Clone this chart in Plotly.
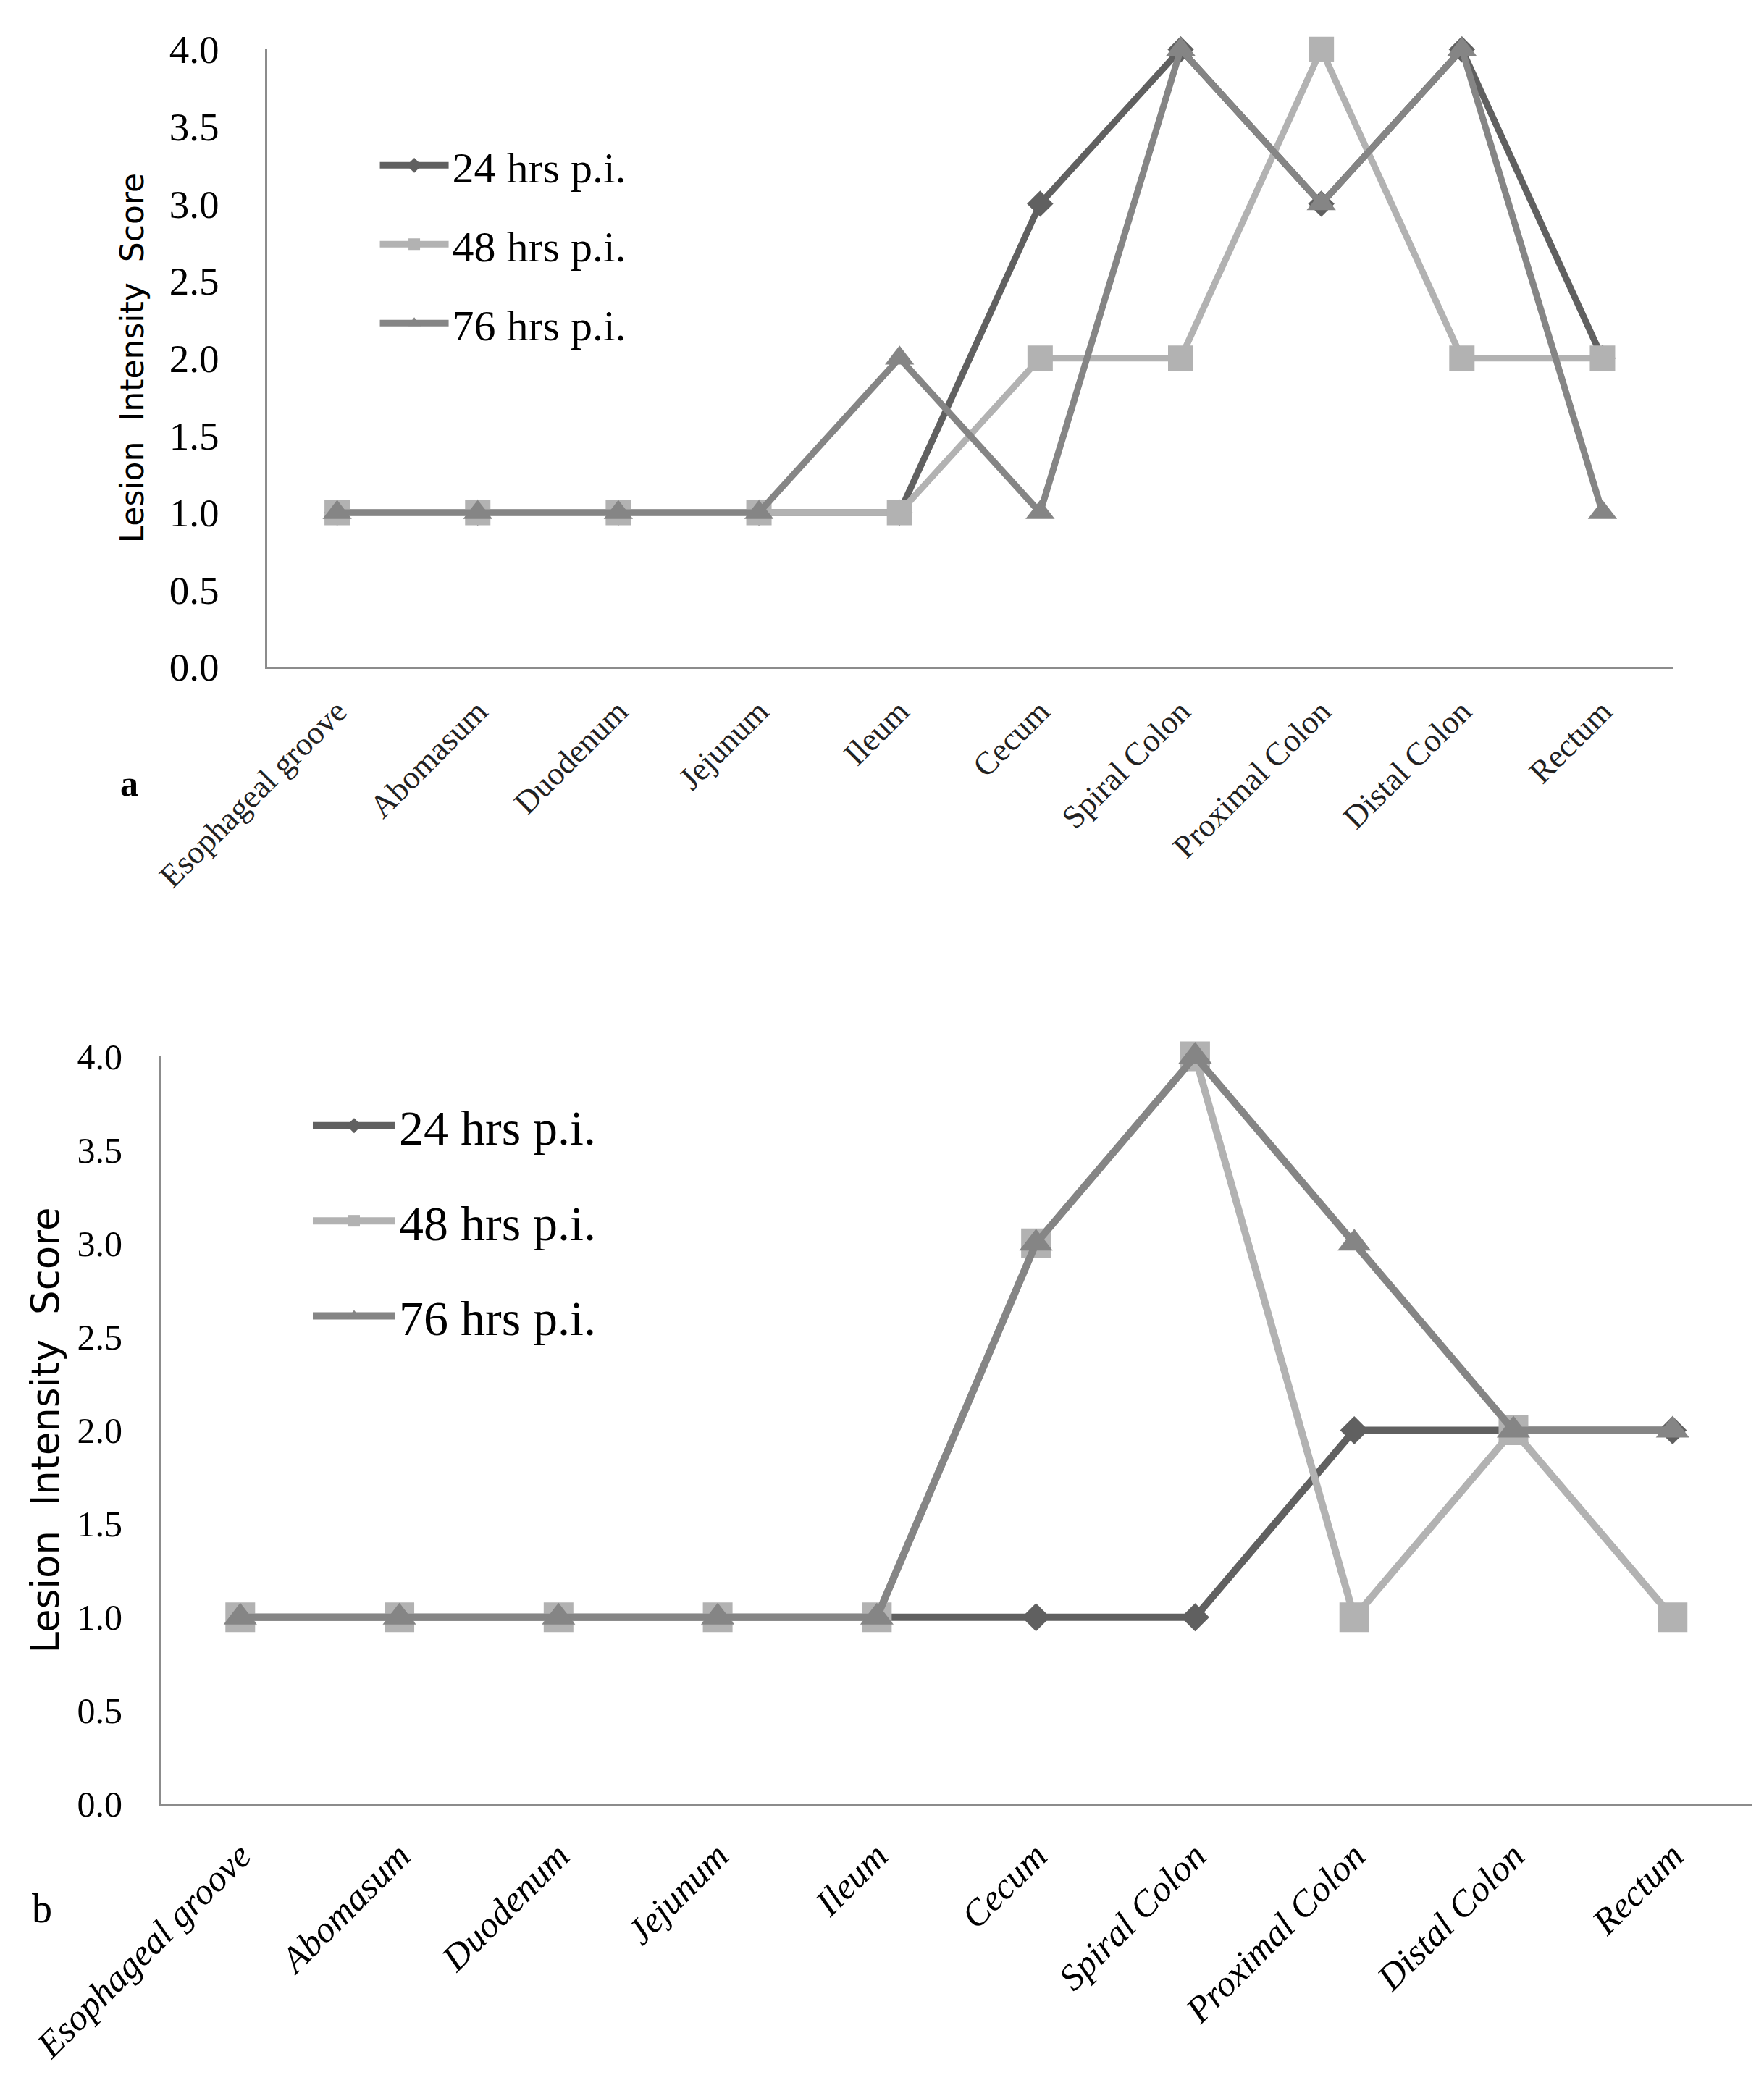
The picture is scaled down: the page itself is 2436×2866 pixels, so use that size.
import plotly.graph_objects as go

# categories along the gut
sites = ["Esophageal groove", "Abomasum", "Duodenum", "Jejunum", "Ileum",
         "Cecum", "Spiral Colon", "Proximal Colon", "Distal Colon", "Rectum"]
series_names = ["24 hrs p.i.", "48 hrs p.i.", "76 hrs p.i."]

# panel a lesion scores
a_24 = [1, 1, 1, 1, 1, 3, 4, 3, 4, 2]
a_48 = [1, 1, 1, 1, 1, 2, 2, 4, 2, 2]
a_76 = [1, 1, 1, 1, 2, 1, 4, 3, 4, 1]

# panel b lesion scores
b_24 = [1, 1, 1, 1, 1, 1, 1, 2, 2, 2]
b_48 = [1, 1, 1, 1, 1, 3, 4, 1, 2, 1]
b_76 = [1, 1, 1, 1, 1, 3, 4, 3, 2, 2]

y_ticks = [0, 0.5, 1, 1.5, 2, 2.5, 3, 3.5, 4]
y_ticktext = ["0.0", "0.5", "1.0", "1.5", "2.0", "2.5", "3.0", "3.5", "4.0"]

colors = ["#606060", "#b2b2b2", "#858585"]
symbols = ["diamond", "square", "triangle-up"]

fig = go.Figure()

# panel a traces
for name, vals, col, sym in zip(series_names, [a_24, a_48, a_76], colors, symbols):
    size = {"diamond": 28, "square": 35, "triangle-up": 35}[sym]
    fig.add_trace(go.Scatter(
        x=list(range(len(sites))), y=vals, name=name, mode="lines+markers",
        line=dict(color=col, width=9), marker=dict(symbol=sym, size=size, color=col),
        xaxis="x", yaxis="y", legend="legend", legendgroup="a" + name,
        cliponaxis=False,
    ))

# panel b traces
for name, vals, col, sym in zip(series_names, [b_24, b_48, b_76], colors, symbols):
    size = {"diamond": 30, "square": 41, "triangle-up": 40}[sym]
    fig.add_trace(go.Scatter(
        x=list(range(len(sites))), y=vals, name=name, mode="lines+markers",
        line=dict(color=col, width=10), marker=dict(symbol=sym, size=size, color=col),
        xaxis="x2", yaxis="y2", legend="legend2", legendgroup="b" + name,
        cliponaxis=False,
    ))

serif = "Liberation Serif, Times New Roman, serif"
sans = "DejaVu Sans, Verdana, sans-serif"
ytitle = "Lesion\u00a0\u00a0Intensity\u00a0\u00a0Score"

axis_common = dict(showgrid=False, zeroline=False, showline=True, automargin=False,
                   linecolor="#8c8c8c", linewidth=3, ticks="")

fig.update_layout(
    width=2436, height=2866,
    margin=dict(l=0, r=0, t=0, b=0, autoexpand=False),
    paper_bgcolor="white", plot_bgcolor="white",
    xaxis=dict(domain=[0.148, 0.945], range=[-0.5, 9.5], anchor="y",
               tickmode="array", tickvals=list(range(len(sites))), ticktext=sites,
               tickangle=-45, tickfont=dict(family=serif, size=45, color="#222222"),
               ticklabelstandoff=14, **axis_common),
    yaxis=dict(domain=[0.6814, 0.979], range=[0, 4], anchor="x",
               tickmode="array", tickvals=y_ticks, ticktext=y_ticktext,
               tickfont=dict(family=serif, size=55, color="black"),
               ticklabelstandoff=52,
               title=dict(text=ytitle, font=dict(family=sans, size=44, color="black"),
                          standoff=22),
               **axis_common),
    xaxis2=dict(domain=[0.0878, 0.990], range=[-0.5, 9.5], anchor="y2",
                tickmode="array", tickvals=list(range(len(sites))), ticktext=sites,
                tickangle=-45,
                tickfont=dict(family=serif, size=51, color="black", style="italic"),
                ticklabelstandoff=18, **axis_common),
    yaxis2=dict(domain=[0.1333, 0.4937], range=[0, 4], anchor="x2",
                tickmode="array", tickvals=y_ticks, ticktext=y_ticktext,
                tickfont=dict(family=serif, size=50, color="black"),
                ticklabelstandoff=40,
                title=dict(text=ytitle, font=dict(family=sans, size=53, color="black"),
                           standoff=8),
                **axis_common),
    legend=dict(x=0.210, y=0.939, xanchor="left", yanchor="top",
                font=dict(family=serif, size=60, color="black"),
                tracegroupgap=28, itemwidth=95, bgcolor="rgba(0,0,0,0)"),
    legend2=dict(x=0.172, y=0.478, xanchor="left", yanchor="top",
                 font=dict(family=serif, size=68, color="black"),
                 tracegroupgap=40, itemwidth=114, bgcolor="rgba(0,0,0,0)"),
    annotations=[
        dict(text="<b>a</b>", x=156 / 2436, y=1 - 1074 / 2866, xref="paper", yref="paper",
             showarrow=False, font=dict(family=serif, size=50, color="black")),
        dict(text="b", x=34 / 2436, y=1 - 2661 / 2866, xref="paper", yref="paper",
             showarrow=False, font=dict(family=serif, size=56, color="black")),
    ],
)

fig.write_html("out.html")
